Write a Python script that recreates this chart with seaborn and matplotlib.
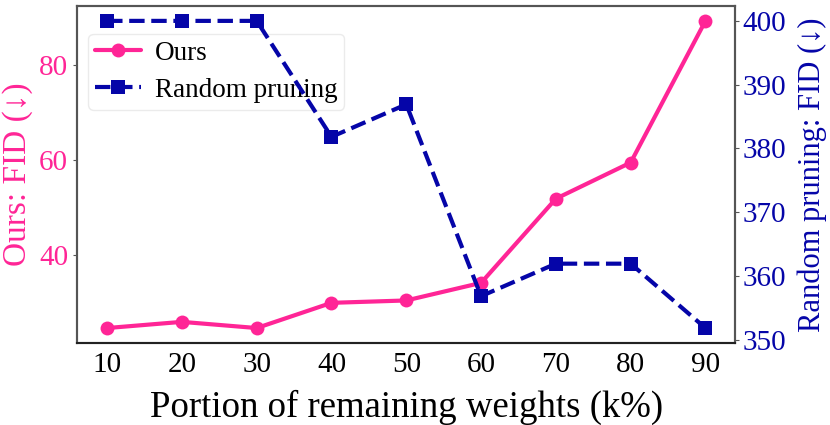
import matplotlib
matplotlib.use("Agg")
import matplotlib.pyplot as plt
import seaborn as sns
import pandas as pd

# portion of remaining weights (k%)
k = [10, 20, 30, 40, 50, 60, 70, 80, 90]
ours_fid = [24.7, 26.0, 24.7, 30.0, 30.5, 34.2, 51.9, 59.5, 89.3]
random_fid = [400.0, 400.0, 400.0, 381.8, 386.9, 356.8, 361.9, 361.9, 351.8]

PINK = "#FF2596"
BLUE = "#0505A8"

sns.set_style("white")
plt.rcParams["font.family"] = ["Liberation Serif", "DejaVu Serif"]
plt.rcParams["text.color"] = "black"
plt.rcParams["axes.labelcolor"] = "black"
plt.rcParams["xtick.color"] = "black"

df = pd.DataFrame({"k": k, "ours": ours_fid, "rand": random_fid})

fig = plt.figure(figsize=(8.3, 4.25), dpi=100)
ax = fig.add_axes([0.093, 0.192, 0.793, 0.795])
ax2 = ax.twinx()

sns.lineplot(data=df, x="k", y="ours", ax=ax, color=PINK, marker="o",
             markersize=10, linewidth=3, mec=PINK, mew=0, label="Ours", legend=False)
sns.lineplot(data=df, x="k", y="rand", ax=ax2, color=BLUE, marker="s",
             markersize=9.5, linewidth=3, linestyle="--", mec=BLUE, mew=0,
             label="Random pruning", legend=False)

ax.set_xticks(k)
ax.set_yticks([40, 60, 80])
ax2.set_yticks([350, 360, 370, 380, 390, 400])
ax.tick_params(axis="x", labelsize=21, labelcolor="black", length=3, color="#555555")
ax.tick_params(axis="y", labelsize=21, labelcolor=PINK, length=3, color="#555555")
ax2.tick_params(axis="y", labelsize=21, labelcolor=BLUE, length=3, color="#555555", pad=2)

ax.set_xlabel("Portion of remaining weights (k%)", fontsize=26.5, labelpad=8, color="black")
ax.set_ylabel("Ours: FID (↓)", fontsize=24, color=PINK, labelpad=4)
ax2.set_ylabel("Random pruning: FID (↓)", fontsize=22, color=BLUE, labelpad=8)

for a in (ax, ax2):
    for sp in a.spines.values():
        sp.set_color("#555555")
        sp.set_linewidth(1.5)
ax2.spines["bottom"].set_color("#222222")

h1, l1 = ax.get_legend_handles_labels()
h2, l2 = ax2.get_legend_handles_labels()
leg = ax.legend(h1 + h2, l1 + l2, loc="upper left", bbox_to_anchor=(0.017, 0.916),
                borderaxespad=0, fontsize=19.5, frameon=True, fancybox=True,
                handlelength=1.7, handletextpad=0.5, borderpad=0.25, labelspacing=0.45)
leg.get_frame().set_edgecolor("#e6e6e6")
leg.get_frame().set_alpha(0.8)

fig.savefig("out.png", dpi=100)
